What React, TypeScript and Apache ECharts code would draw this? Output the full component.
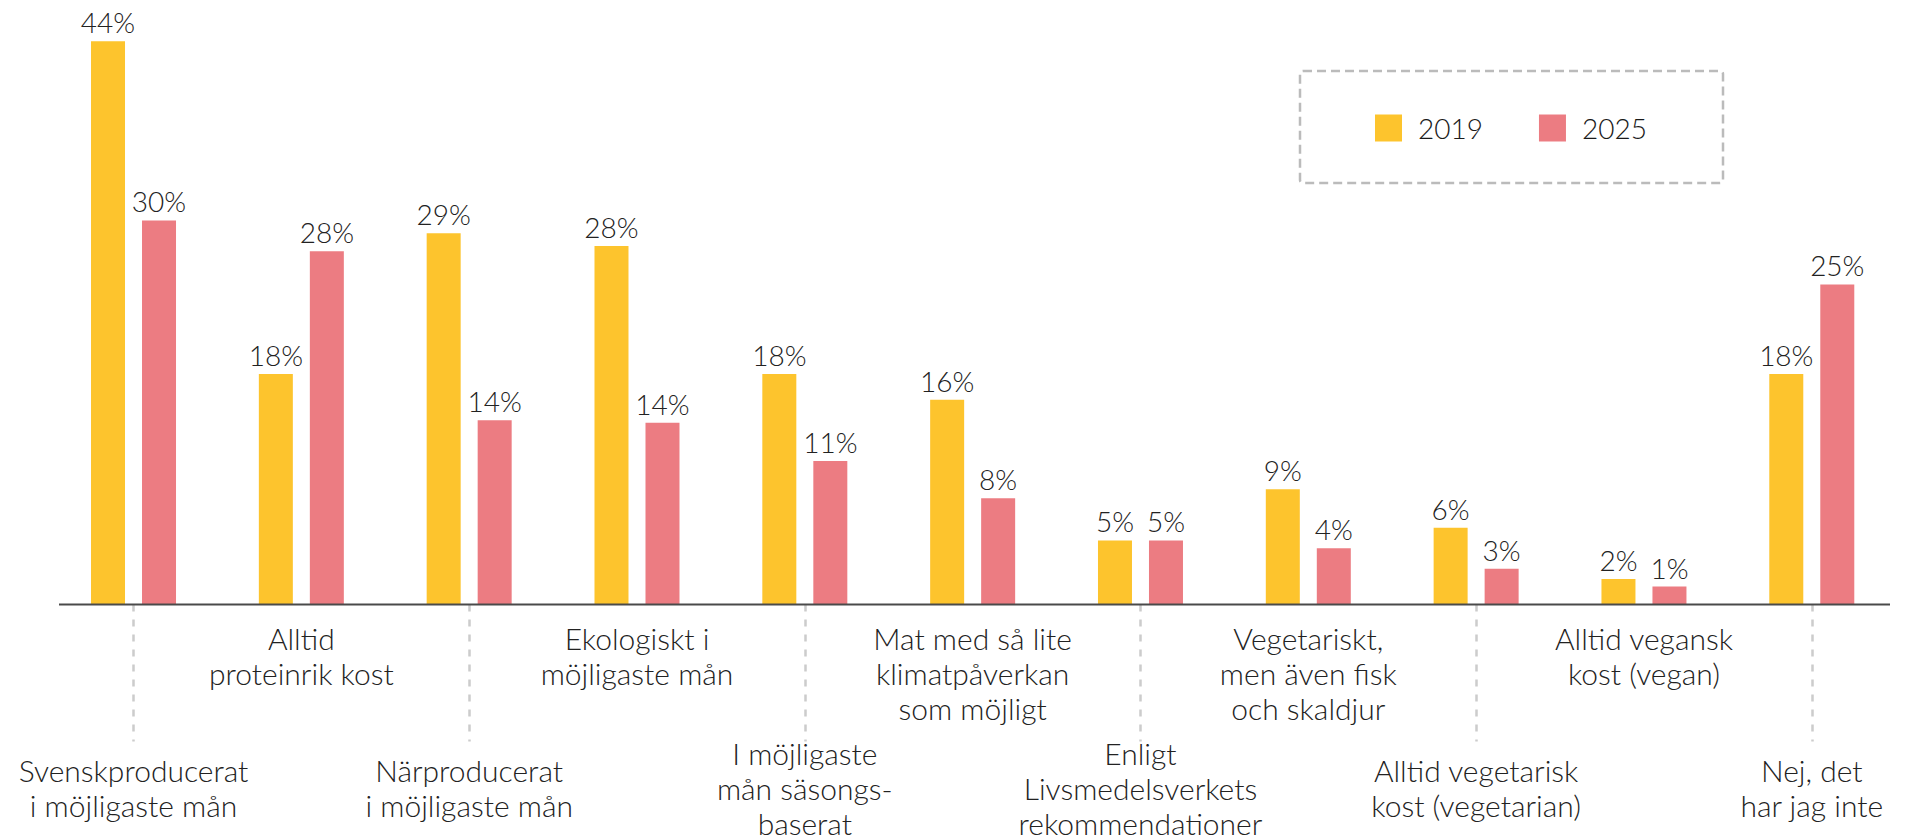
import React, { useEffect, useRef } from "react";
import * as echarts from "echarts";

const categories: string[] = [
  "Svenskproducerat\ni möjligaste mån",
  "Alltid\nproteinrik kost",
  "Närproducerat\ni möjligaste mån",
  "Ekologiskt i\nmöjligaste mån",
  "I möjligaste\nmån säsongs-\nbaserat",
  "Mat med så lite\nklimatpåverkan\nsom möjligt",
  "Enligt\nLivsmedelsverkets\nrekommendationer",
  "Vegetariskt,\nmen även fisk\noch skaldjur",
  "Alltid vegetarisk\nkost (vegetarian)",
  "Alltid vegansk\nkost (vegan)",
  "Nej, det\nhar jag inte",
];

const seriesNames: string[] = ["2019", "2025"];
const values2019: number[] = [44, 18, 29, 28, 18, 16, 5, 9, 6, 2, 18];
const values2025: number[] = [30, 27.6, 14.4, 14.2, 11.2, 8.3, 5, 4.4, 2.8, 1.4, 25];

const COLOR_2019 = "#FDC42D";
const COLOR_2025 = "#EC7C82";
const FONT = "Lato";

export default function App() {
  const ref = useRef<HTMLDivElement>(null);

  useEffect(() => {
    if (!ref.current) return;
    const chart = echarts.init(ref.current, undefined, { renderer: "svg" });

    const labelCfg = {
      show: true,
      position: "top" as const,
      distance: 5,
      fontSize: 28,
      fontFamily: FONT,
      fontWeight: 300 as any,
      color: "#222222",
      formatter: (p: any) => Math.round(p.value) + "%",
    };

    chart.setOption({
      animation: false,
      textStyle: { fontFamily: FONT, fontWeight: 300 },
      legend: {
        data: seriesNames,
        left: 1375,
        top: 114,
        padding: 0,
        itemWidth: 27,
        itemHeight: 27,
        itemGap: 56,
        icon: "rect",
        textStyle: {
          fontSize: 28,
          fontFamily: FONT,
          fontWeight: 300,
          color: "#1a1a1a",
          padding: [0, 0, 0, 11],
        },
      },
      grid: { left: 49.6, right: 15.3, top: 15.6, bottom: 232.4 },
      xAxis: [
        {
          type: "category",
          data: categories,
          position: "bottom",
          axisLine: { show: false },
          axisTick: {
            show: true,
            alignWithLabel: true,
            interval: (i: number) => i % 2 === 0,
            length: 137,
            lineStyle: { color: "#cccccc", width: 2.5, type: [7, 8] },
          },
          axisLabel: {
            interval: 0,
            margin: 183,
            verticalAlign: "middle",
            lineHeight: 35,
            fontSize: 30,
            fontFamily: FONT,
            fontWeight: 300,
            color: "#222222",
            formatter: (v: string, i: number) => (i % 2 === 0 ? v : ""),
          },
        },
        {
          type: "category",
          data: categories,
          position: "bottom",
          axisLine: { show: false },
          axisTick: { show: false },
          axisLabel: {
            interval: 0,
            margin: 16,
            verticalAlign: "top",
            lineHeight: 35,
            fontSize: 30,
            fontFamily: FONT,
            fontWeight: 300,
            color: "#222222",
            formatter: (v: string, i: number) => (i % 2 === 1 ? v : ""),
          },
        },
      ],
      yAxis: { type: "value", min: 0, max: 46, show: false },
      series: [
        {
          name: seriesNames[0],
          type: "bar",
          xAxisIndex: 0,
          data: values2019,
          barWidth: 34,
          barGap: "50%",
          itemStyle: { color: COLOR_2019 },
          label: labelCfg,
        },
        {
          name: seriesNames[1],
          type: "bar",
          xAxisIndex: 0,
          data: values2025,
          barWidth: 34,
          barGap: "50%",
          itemStyle: { color: COLOR_2025 },
          label: labelCfg,
        },
      ],
    });

    // baseline and dashed legend frame (decoration)
    const baseY = chart.convertToPixel({ yAxisIndex: 0 }, 0) as number;
    chart.setOption({
      graphic: [
        {
          type: "rect",
          shape: { x: 1300, y: 71, width: 423, height: 112, r: 3 },
          style: { fill: "none", stroke: "#bbbbbb", lineWidth: 2.5, lineDash: [9, 5] },
          silent: true,
        },
        {
          type: "line",
          shape: { x1: 59, y1: baseY, x2: 1890, y2: baseY },
          style: { stroke: "#4a4a4a", lineWidth: 2 },
          silent: true,
          z: 10,
        },
      ],
    });

    return () => chart.dispose();
  }, []);

  return (
    <div
      ref={ref}
      style={{ position: "fixed", left: 0, top: 0, width: "1911px", height: "840px", background: "#fff" }}
    />
  );
}
